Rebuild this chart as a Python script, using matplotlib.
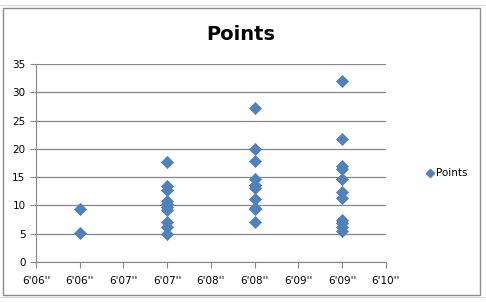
import matplotlib
matplotlib.use("Agg")
import matplotlib.pyplot as plt
import matplotlib.patches as pat

# height in inches (6'06" = 78) and points
height_in = [78.5] * 2 + [79.5] * 10 + [80.5] * 10 + [81.5] * 11
points = [9.3, 5.1,
          17.7, 13.4, 12.7, 10.8, 10.2, 9.8, 9.2, 7.1, 6.2, 5.0,
          27.3, 20.0, 17.8, 14.7, 13.6, 13.0, 11.1, 9.6, 9.3, 7.0,
          32.0, 21.8, 16.9, 16.4, 14.7, 12.3, 11.4, 7.4, 6.9, 6.2, 5.5]

x_ticks = [78, 78.5, 79, 79.5, 80, 80.5, 81, 81.5, 82]
x_labels = ["6'06''", "6'06''", "6'07''", "6'07''", "6'08''", "6'08''",
            "6'09''", "6'09''", "6'10''"]
y_ticks = [0, 5, 10, 15, 20, 25, 30, 35]

fig = plt.figure(figsize=(4.86, 3.02), dpi=100, facecolor='white')

# spreadsheet cell lines behind the chart
for yy in [0.985, 0.015]:
    fig.add_artist(plt.Line2D([0, 1], [yy, yy], color='#d9d9d9', lw=0.8, zorder=-2))
# chart border
fig.add_artist(pat.Rectangle((0.006, 0.023), 0.982, 0.95, transform=fig.transFigure,
                             fill=True, fc='white', ec='#8c8c8c', lw=1.0, zorder=-1))

ax = fig.add_axes([0.074, 0.1325, 0.72, 0.6555])
ax.patch.set_alpha(0)
ax.scatter(height_in, points, marker='D', s=38, color='#4F81BD',
           edgecolors='#4F81BD', linewidths=0.5, zorder=3, label='Points')

ax.set_xlim(78, 82)
ax.set_ylim(0, 35)
ax.set_xticks(x_ticks)
ax.set_xticklabels(x_labels)
ax.set_yticks(y_ticks)
ax.grid(axis='y', color='#868686', lw=0.9)
ax.set_axisbelow(True)
for s in ['top', 'right']:
    ax.spines[s].set_visible(False)
for s in ['left', 'bottom']:
    ax.spines[s].set_color('#868686')
ax.tick_params(colors='#868686', labelcolor='black', labelsize=7.5, length=4, direction='out')
ax.tick_params(axis='x', pad=6)

fig.text(0.495, 0.885, 'Points', ha='center', va='center', fontsize=14, fontweight='bold')
fig.legend(*ax.get_legend_handles_labels(), loc='center left',
           bbox_to_anchor=(0.855, 0.427), frameon=False, fontsize=7.5,
           handletextpad=0.1, handlelength=1.0, markerscale=0.75)

fig.savefig('out.png', dpi=100)
